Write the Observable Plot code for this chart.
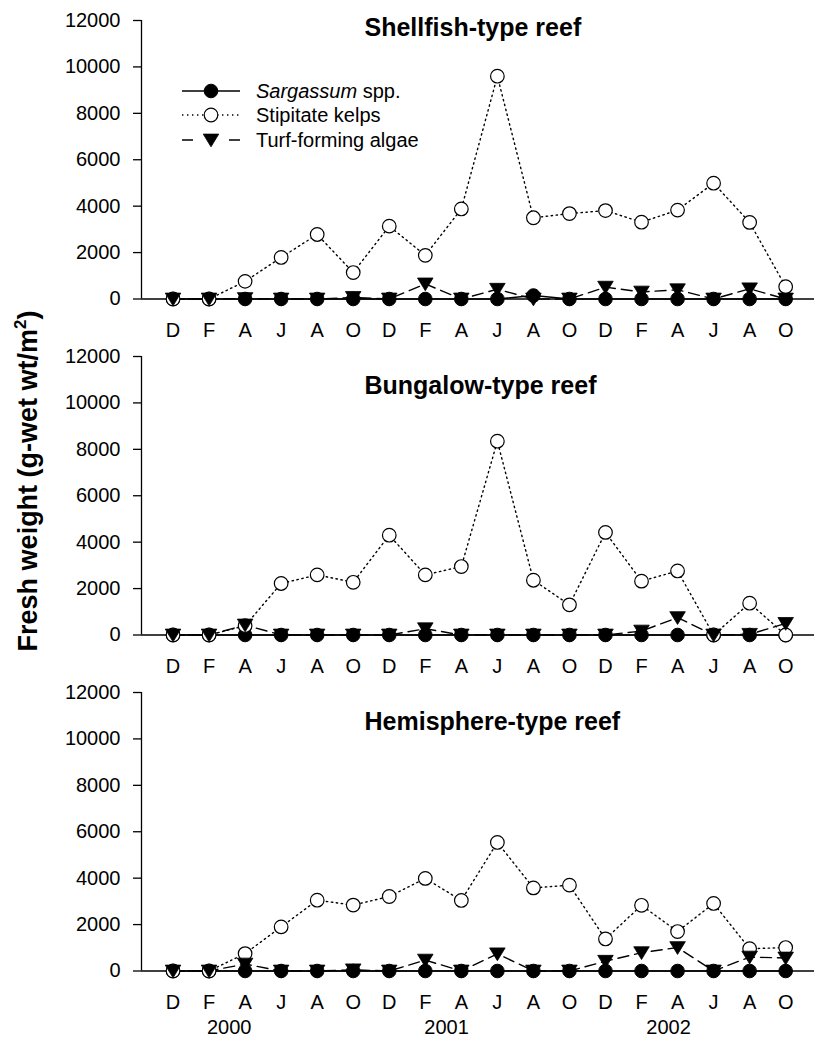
<!DOCTYPE html>
<html>
<head>
<meta charset="utf-8">
<script src="https://cdn.jsdelivr.net/npm/d3@7"></script>
<script src="https://cdn.jsdelivr.net/npm/@observablehq/plot@0.6"></script>
<style>
  html, body { margin: 0; padding: 0; background: #fff; }
  #figure { position: relative; width: 815px; height: 1039px; overflow: hidden;
            font-family: "Liberation Sans", Arial, Helvetica, sans-serif; color: #000; }
  #panels svg { display: block; }
  #ytitle { position: absolute; left: 28px; top: 481px; white-space: nowrap;
            font-size: 27px; font-weight: bold; line-height: 1;
            transform: translate(-50%, -50%) rotate(-90deg); }
  #ytitle sup { font-size: 0.62em; line-height: 0; vertical-align: 0.62em; }
  .legend-row { position: absolute; height: 24px; }
  .legend-row svg { position: absolute; left: 0; top: 0; overflow: visible; }
  .legend-row span { position: absolute; left: 74px; top: 0; line-height: 24px;
                     font-size: 20px; white-space: nowrap; }
</style>
</head>
<body>
<div id="figure">
  <div id="panels"></div>
  <div id="ytitle">Fresh weight (g-wet wt/m<sup>2</sup>)</div>
  <div id="legend"></div>
</div>
<script>
// Sampling dates: bimonthly, Dec 2000 – Oct 2002
const months = ["D", "F", "A", "J", "A", "O", "D", "F", "A", "J", "A", "O", "D", "F", "A", "J", "A", "O"];
const years = ["2000", "2001", "2002"];
const yearTicks = [1.56, 7.59, 13.75];
const yTicks = [0, 2000, 4000, 6000, 8000, 10000, 12000];

const reefTitles = ["Shellfish-type reef", "Bungalow-type reef", "Hemisphere-type reef"];
const seriesNames = ["Sargassum spp.", "Stipitate kelps", "Turf-forming algae"];

// Fresh weight (g-wet wt/m²) per sampling date
const shellfishSargassum = [0, 0, 0, 0, 0, 0, 0, 0, 0, 0, 150, 0, 0, 0, 0, 0, 0, 0];
const shellfishKelps     = [0, 0, 760, 1790, 2780, 1140, 3140, 1880, 3880, 9600, 3500, 3680, 3810, 3310, 3830, 4990, 3300, 530];
const shellfishTurf      = [0, 0, 20, 0, 0, 70, 0, 650, 0, 420, 0, 0, 510, 300, 400, 0, 440, 0];

const bungalowSargassum  = [0, 0, 0, 0, 0, 0, 0, 0, 0, 0, 0, 0, 0, 0, 0, 0, 0, 0];
const bungalowKelps      = [0, 0, 400, 2220, 2590, 2270, 4300, 2590, 2950, 8350, 2360, 1300, 4420, 2320, 2760, 0, 1370, 0];
const bungalowTurf       = [0, 0, 430, 0, 0, 0, 0, 270, 0, 0, 0, 0, 0, 170, 750, 0, 30, 500];

const hemisphereSargassum = [0, 0, 0, 0, 0, 0, 0, 0, 0, 0, 0, 0, 0, 0, 0, 0, 0, 0];
const hemisphereKelps     = [0, 0, 750, 1900, 3050, 2840, 3210, 3990, 3040, 5540, 3580, 3700, 1380, 2830, 1700, 2910, 960, 1010];
const hemisphereTurf      = [0, 0, 300, 0, 0, 50, 0, 470, 0, 740, 0, 0, 420, 790, 1010, 0, 600, 560];

const reefSeries = [
  [shellfishSargassum, shellfishKelps, shellfishTurf],
  [bungalowSargassum, bungalowKelps, bungalowTurf],
  [hemisphereSargassum, hemisphereKelps, hemisphereTurf]
];

// Downward-pointing filled triangle
const triangleDown = {
  draw(context, size) {
    const r = Math.sqrt(size / Math.PI);
    const w = r * 1.08, top = -r * 0.82, tip = r * 0.95;
    context.moveTo(-w, top);
    context.lineTo(w, top);
    context.lineTo(0, tip);
    context.closePath();
  }
};

// Series styling: line dash pattern and marker
const styles = [
  {dash: null,      dot: {r: 6.8, fill: "black", stroke: "black", strokeWidth: 1}},
  {dash: "1.4 3.6", dot: {r: 6.8, fill: "white", stroke: "black", strokeWidth: 1.2}},
  {dash: "11 6",    dot: {r: 7.2, symbol: triangleDown, fill: "black", stroke: "black", strokeWidth: 0.8}}
];

const xDomain = [-0.875, 17.8];
const fontFamily = '"Liberation Sans", Arial, Helvetica, sans-serif';

function panel(k) {
  const last = k === 2;
  const height = last ? 367 : 336;
  const rows = reefSeries[k].map(vals => vals.map((v, i) => ({i, v})));
  const lines = rows.map((r, s) => Plot.line(r, {
    x: "i", y: "v", stroke: "black", strokeWidth: 1.4,
    strokeDasharray: styles[s].dash || undefined
  }));
  const dots = rows.map((r, s) => Plot.dot(r, {x: "i", y: "v", ...styles[s].dot}));
  const marks = [
    Plot.ruleY([0], {stroke: "black", strokeWidth: 1.3}),
    Plot.ruleX([xDomain[0]], {y1: 0, y2: yTicks[yTicks.length - 1], stroke: "black", strokeWidth: 1.3}),
    Plot.axisY({ticks: yTicks, tickSize: 8, tickPadding: 13, tickFormat: d => String(d),
                label: null, strokeWidth: 1.3}),
    Plot.axisX({ticks: d3.range(months.length), tickFormat: i => months[i],
                tickSize: 0, tickPadding: 24, label: null}),
    Plot.text([reefTitles[k]], {frameAnchor: "top-left", dx: 223, dy: k === 0 ? 15 : 37,
               lineAnchor: "bottom", textAnchor: "start", fontSize: 25, fontWeight: "bold"}),
    ...lines,
    ...dots
  ];
  if (last) {
    marks.push(Plot.axisX({ticks: yearTicks, tickFormat: d => years[yearTicks.indexOf(d)],
                           tickSize: 0, tickPadding: 49, label: null}));
  }
  return Plot.plot({
    width: 815,
    height,
    marginLeft: 141,
    marginRight: 1,
    marginTop: 20,
    marginBottom: height - 298.5,
    x: {type: "linear", domain: xDomain, axis: null},
    y: {type: "linear", domain: [0, 12000], axis: null},
    style: {fontFamily, fontSize: "20px", color: "black", background: "white", overflow: "visible"},
    marks
  });
}

const panelsDiv = document.getElementById("panels");
for (let k = 0; k < 3; ++k) panelsDiv.appendChild(panel(k));

// Legend inside the first panel
const legend = d3.select("#legend");
const rowCenters = [90.5, 115, 139.5];
const swatchDash = [null, "1.4 3.6", "11 36 11"];
seriesNames.forEach((name, s) => {
  const row = legend.append("div").attr("class", "legend-row")
    .style("left", "182px").style("top", (rowCenters[s] - 12) + "px");
  const svg = row.append("svg").attr("width", 58).attr("height", 24);
  svg.append("line").attr("x1", 0).attr("x2", 58).attr("y1", 12).attr("y2", 12)
    .attr("stroke", "black").attr("stroke-width", 1.4)
    .attr("stroke-dasharray", swatchDash[s]);
  const st = styles[s].dot;
  const sym = st.symbol || d3.symbolCircle;
  svg.append("path")
    .attr("transform", "translate(29,12)")
    .attr("d", d3.symbol(sym, st.r * st.r * Math.PI)())
    .attr("fill", st.fill).attr("stroke", st.stroke).attr("stroke-width", st.strokeWidth);
  const span = row.append("span");
  if (s === 0) {
    span.append("i").text("Sargassum");
    span.append("tspan").text(" spp.");
  } else {
    span.text(name);
  }
});
</script>
</body>
</html>
